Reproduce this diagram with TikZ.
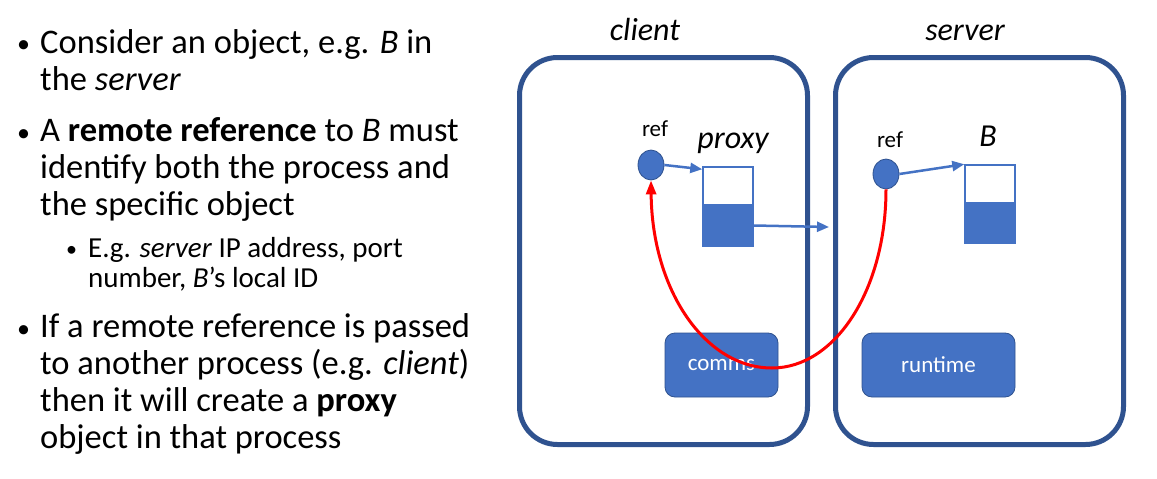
\documentclass[tikz,border=0pt]{standalone}
\usepackage{fontspec}
\setmainfont{Carlito}
\usetikzlibrary{arrows.meta,calc,shapes.geometric}
\definecolor{boxblue}{RGB}{47,82,143}
\definecolor{fillblue}{RGB}{68,114,196}
\tikzset{
  process/.style={draw=boxblue, line width=5pt, rounded corners=38pt, fill=white, minimum width=288pt, minimum height=387pt},
  refdot/.style={ellipse, draw=boxblue, line width=0.8pt, fill=fillblue, minimum width=26pt, minimum height=30pt, inner sep=0pt},
  slot/.style={draw=fillblue, line width=1.5pt, minimum width=50pt, inner sep=0pt},
  module/.style={draw=boxblue, line width=0.8pt, fill=fillblue, rounded corners=10pt, text=white, font=\fontsize{23}{26}\selectfont},
  link/.style={draw=fillblue, line width=2.5pt, -{Triangle[length=12pt,width=10pt]}},
  bodytext/.style={anchor=base west, inner sep=0pt, align=left, font=\fontsize{34.5}{37}\selectfont},
  subtext/.style={anchor=base west, inner sep=0pt, align=left, font=\fontsize{29}{30}\selectfont},
  bulletdot/.style={anchor=base west, inner sep=0pt, font=\fontsize{26}{30}\selectfont},
  subdot/.style={anchor=base west, inner sep=0pt, font=\fontsize{22}{26}\selectfont},
  label/.style={anchor=base, inner sep=0pt, font=\fontsize{32}{36}\selectfont\itshape},
  reflabel/.style={anchor=base, inner sep=0pt, font=\fontsize{23}{26}\selectfont},
}
\begin{document}
\begin{tikzpicture}[x=1pt, y=-1pt]
  %%%%% START %%%%%
  \useasboundingbox (0, 0) rectangle (1157, 479);

  % bullet text (anchored at the baseline of the last line)
  \node[bulletdot] (dot1) at (17, 52) {•};
  \node[bodytext] (item1) at (40, 90) {Consider an object, e.g. \textit{B} in\\the \textit{server}};
  \node[bulletdot] (dot2) at (17, 141) {•};
  \node[bodytext] (item2) at (40, 215) {A \textbf{remote reference} to \textit{B} must\\identify both the process and\\the specific object};
  \node[subdot] (dot2a) at (66, 256) {•};
  \node[subtext] (item2a) at (88, 287) {E.g. \textit{server} IP address, port\\number, \textit{B}’s local ID};
  \node[bulletdot] (dot3) at (17, 337) {•};
  \node[bodytext] (item3) at (40, 448) {If a remote reference is passed\\to another process (e.g. \textit{client})\\then it will create a \textbf{proxy}\\object in that process};

  % processes
  \node[process] (client) at (663.5, 251) {};
  \node[process] (server) at (979.5, 251) {};
  \node[label] (clientlbl) at (645, 40) {client};
  \node[label] (serverlbl) at (965, 40) {server};

  % client side
  \node[refdot] (cref) at (651, 165) {};
  \node[reflabel] (creflbl) at (655, 136) {ref};
  \node[label] (proxylbl) at (733, 148) {proxy};
  \node[slot, fill=white, minimum height=38pt] (ptop) at (728, 186) {};
  \node[slot, fill=fillblue, minimum height=41pt] (pbot) at (728, 225.5) {};
  \node[module, minimum width=113pt, minimum height=64pt] (comms) at (721.5, 365) {comms};

  % server side
  \node[refdot] (sref) at (886, 174) {};
  \node[reflabel] (sreflbl) at (890, 147) {ref};
  \node[label] (blbl) at (988, 146) {B};
  \node[slot, fill=white, minimum height=38pt] (btop) at (990, 184) {};
  \node[slot, fill=fillblue, minimum height=40pt] (bbot) at (990, 223) {};
  \node[module, minimum width=153pt, minimum height=64pt] (runtime) at (938.5, 365) {runtime};

  % links
  \coordinate (edge) at (829, 227);
  \draw[link] (cref.east) -- ($(ptop.north west)+(0, 3)$);
  \draw[link] (pbot.east) -- (edge);
  \draw[link] (sref.east) -- (btop.north west);

  \draw[red, line width=3pt, -{Triangle[length=14pt,width=10pt]}] (sref.south) .. controls (886, 290) and (835, 368) .. (772, 368) .. controls (705, 368) and (652, 290) .. (cref.south);
  %%%%% END %%%%%
\end{tikzpicture}
\end{document}
